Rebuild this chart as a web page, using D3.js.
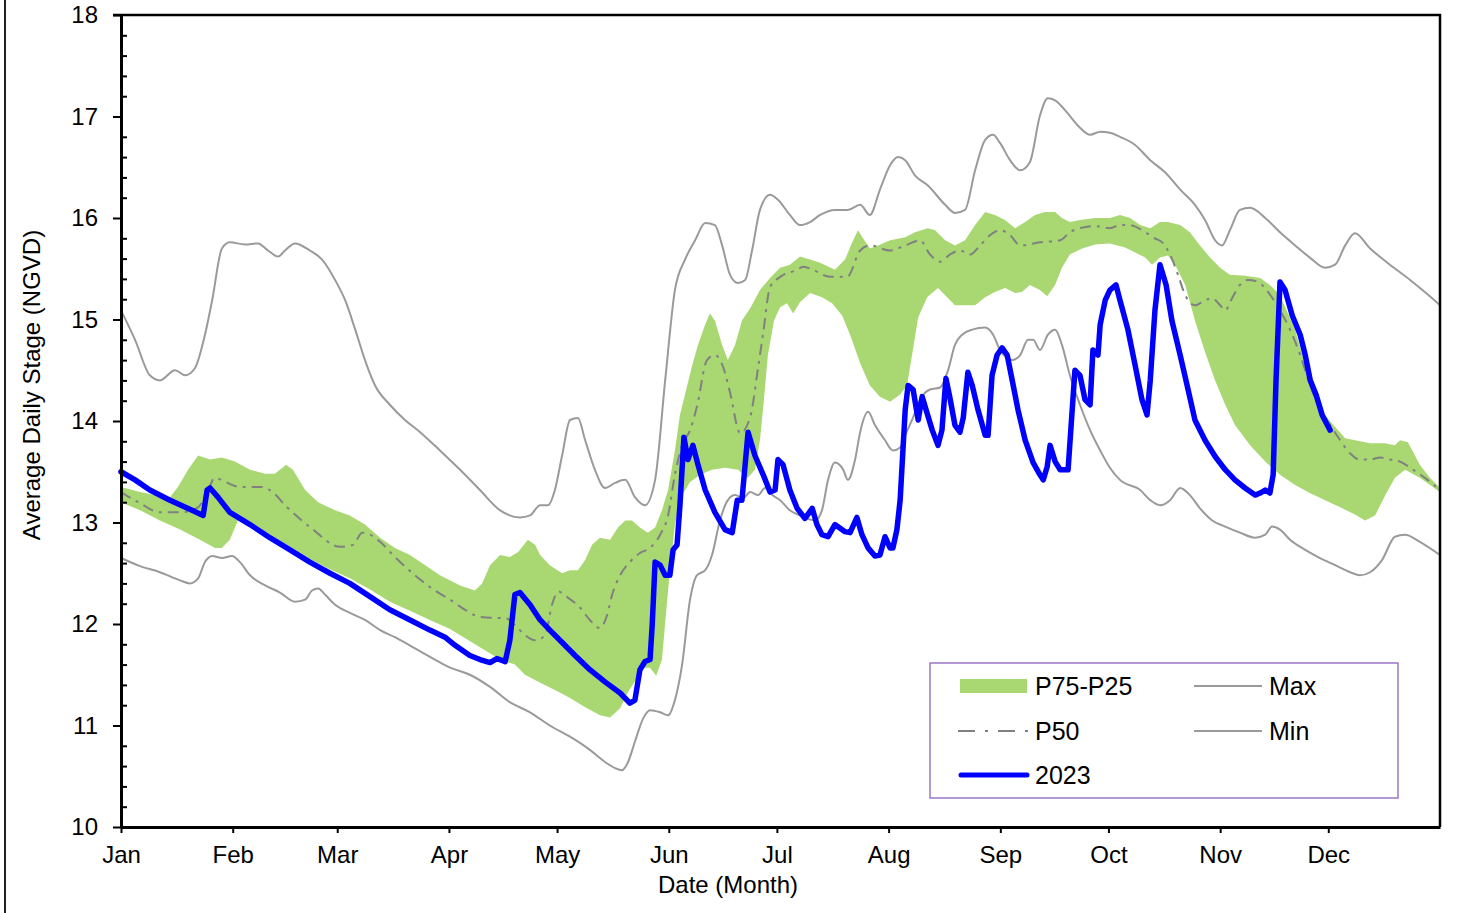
<!DOCTYPE html>
<html>
<head>
<meta charset="utf-8">
<script src="https://cdn.jsdelivr.net/npm/d3@7"></script>
<style>
  body { margin: 0; background: #fff; }
  svg { display: block; font-family: "Liberation Sans", Arial, sans-serif; }
  .axis path, .axis line { stroke: #000; }
  .axis text { font-size: 24px; fill: #000; }
</style>
</head>
<body>
<div id="chart"></div>
<script>
// Month labels and day-of-year where each month starts
const monthLabels = ["Jan", "Feb", "Mar", "Apr", "May", "Jun", "Jul", "Aug", "Sep", "Oct", "Nov", "Dec"];
const monthStarts = [0, 31, 60, 91, 121, 152, 182, 213, 244, 274, 305, 335];
const yTicks = [10, 11, 12, 13, 14, 15, 16, 17, 18];

// Series: [day of year, stage]
const maxSeries = [[0,15.09],[3.9,14.80],[8,14.45],[10.8,14.40],[15,14.50],[17.8,14.45],[20.5,14.52],[23.3,14.85],[25.3,15.19],[28,15.70],[30.2,15.76],[34.4,15.74],[38,15.75],[40.8,15.68],[43.6,15.62],[45.5,15.68],[48.3,15.75],[52.4,15.68],[55.8,15.59],[59.4,15.39],[62.2,15.19],[65,14.90],[67.7,14.60],[70.5,14.35],[74.6,14.16],[78.8,14.01],[83,13.89],[88.5,13.71],[94.1,13.52],[99.6,13.32],[105.2,13.12],[110.7,13.05],[113.5,13.07],[116.3,13.17],[118.5,13.17],[120.4,13.32],[122.4,13.66],[124.6,14.01],[126.8,14.03],[128.8,13.81],[131.5,13.52],[134.3,13.34],[137.1,13.39],[139.9,13.42],[142.6,13.25],[145.4,13.17],[148.2,13.42],[151,14.40],[153.7,15.29],[156.5,15.59],[159.3,15.78],[162.1,15.95],[164.8,15.93],[166.8,15.73],[169,15.44],[171.2,15.36],[173.2,15.39],[175.1,15.68],[177.3,16.08],[180.1,16.23],[182.3,16.18],[185.6,16.03],[188.4,15.93],[191.2,15.96],[194,16.03],[198.1,16.08],[201.7,16.08],[205.1,16.13],[207.8,16.03],[210.6,16.28],[213.4,16.52],[215.6,16.60],[217.6,16.57],[220.3,16.42],[223.9,16.32],[228.7,16.13],[231.4,16.05],[234.2,16.08],[237,16.47],[239.8,16.77],[242,16.82],[243.9,16.74],[246.7,16.57],[249.5,16.47],[252.2,16.55],[255,17.01],[257.2,17.18],[259.2,17.16],[262,17.06],[266.1,16.89],[268.9,16.82],[271.7,16.85],[274.4,16.84],[277.2,16.80],[281.4,16.72],[285.6,16.57],[289.7,16.45],[293.9,16.28],[298,16.13],[300.8,15.98],[303.6,15.78],[305.5,15.73],[307.7,15.88],[310.5,16.08],[313.3,16.10],[317.5,16.00],[321.6,15.86],[325.8,15.73],[329.9,15.61],[334.1,15.51],[336.9,15.54],[339.7,15.73],[342.4,15.85],[346.6,15.70],[352.1,15.54],[357.7,15.39],[361.8,15.27],[366,15.14]];

const minSeries = [[0,12.65],[5.3,12.57],[10.8,12.51],[16.4,12.43],[19.1,12.40],[21.4,12.45],[23.3,12.61],[25.3,12.67],[28,12.65],[30.8,12.67],[33,12.61],[35.8,12.48],[40,12.38],[44.1,12.31],[48.3,12.22],[51.1,12.24],[53,12.33],[54.7,12.35],[56.6,12.29],[59.4,12.19],[63.5,12.11],[67.7,12.04],[71.9,11.94],[76,11.87],[81.6,11.76],[87.1,11.65],[91.3,11.57],[96.8,11.50],[102.4,11.38],[107.9,11.23],[113.5,11.13],[119,11.00],[124.6,10.89],[130.1,10.76],[134.3,10.64],[137.1,10.58],[139,10.56],[140.7,10.64],[142.6,10.84],[144.9,11.07],[146.8,11.15],[149.6,11.13],[151.8,11.10],[153.7,11.25],[155.7,11.60],[157.9,12.24],[159.8,12.48],[162.1,12.53],[164,12.68],[166.2,13.02],[168.4,13.22],[170.4,13.27],[172.6,13.24],[174.6,13.30],[176.8,13.27],[178.7,13.34],[180.7,13.27],[182.9,13.22],[185.6,13.12],[188.4,13.07],[192.6,13.02],[194.5,13.12],[196.2,13.42],[198.1,13.59],[200.4,13.52],[201.7,13.42],[203.7,13.62],[205.1,13.89],[207.3,14.09],[209.2,13.96],[212,13.81],[214.2,13.71],[216.2,13.74],[217.6,13.86],[219.5,14.01],[221.7,14.21],[224.5,14.31],[227.3,14.33],[229.5,14.50],[231.4,14.75],[233.4,14.85],[236.2,14.90],[239.8,14.92],[242,14.85],[243.9,14.70],[247.3,14.60],[249.5,14.65],[251.7,14.80],[253.1,14.80],[255,14.70],[257.2,14.85],[259.2,14.90],[261.1,14.75],[263.3,14.45],[266.1,14.16],[268.9,13.91],[271.7,13.71],[274.4,13.54],[277.2,13.42],[282.8,13.32],[285.6,13.22],[288.3,13.17],[291.1,13.22],[293.9,13.34],[296.6,13.27],[299.4,13.14],[302.8,13.02],[306.4,12.96],[310.5,12.90],[314.7,12.85],[317.5,12.88],[319.4,12.96],[321.6,12.93],[324.4,12.83],[328.6,12.73],[332.7,12.65],[336.9,12.58],[341.1,12.51],[343.8,12.48],[346.6,12.51],[349.9,12.63],[353.5,12.86],[356.3,12.88],[360.4,12.81],[366,12.68]];

const p75Series = [[0,13.35],[5.3,13.30],[10.8,13.26],[13.6,13.25],[15.8,13.35],[18.6,13.52],[21.4,13.66],[24.7,13.62],[28,13.64],[31.6,13.60],[35.8,13.52],[40,13.48],[42.7,13.48],[44.1,13.52],[45.8,13.57],[47.7,13.52],[51.1,13.32],[54.7,13.20],[59.4,13.12],[63.5,13.07],[67.7,12.98],[71.9,12.85],[76,12.75],[80.2,12.68],[84.4,12.58],[88.5,12.48],[94.1,12.38],[98.2,12.33],[100.2,12.40],[102.4,12.58],[105.2,12.68],[107.9,12.66],[110.2,12.71],[112.9,12.83],[114.9,12.78],[116.3,12.68],[119,12.58],[122.4,12.50],[124.6,12.53],[126.8,12.53],[128.8,12.63],[130.7,12.78],[132.9,12.85],[135.7,12.83],[137.9,12.95],[139.9,13.02],[141.8,13.02],[144,12.95],[146.2,12.90],[148.2,12.95],[150.1,13.12],[151.8,13.32],[153.7,13.71],[155.1,14.06],[156.5,14.26],[158.5,14.55],[160.1,14.75],[162.1,14.95],[163.4,15.06],[164.8,14.99],[166.8,14.75],[168.4,14.60],[170.4,14.75],[172.3,14.99],[174.6,15.11],[177.3,15.29],[180.1,15.41],[182.9,15.51],[185.6,15.54],[188.4,15.62],[191.2,15.59],[194,15.56],[198.1,15.49],[200.9,15.59],[202.9,15.76],[204.5,15.88],[205.9,15.80],[207.8,15.70],[210.1,15.73],[213.4,15.78],[217.6,15.81],[220.3,15.86],[223.9,15.90],[225.9,15.88],[228.7,15.78],[231.4,15.73],[234.2,15.78],[237,15.93],[239.8,16.06],[242.5,16.03],[245.3,15.98],[248.1,15.90],[250.9,15.96],[253.6,16.03],[256.4,16.06],[259.2,16.06],[261.1,16.00],[263.3,15.96],[266.1,15.98],[270.3,16.00],[274.4,16.00],[277.2,16.03],[280,16.00],[282.8,15.93],[285.6,15.90],[288.3,15.96],[290.5,15.96],[293.9,15.93],[296.6,15.86],[299.4,15.73],[302.2,15.61],[305,15.51],[307.7,15.44],[311.9,15.43],[316.1,15.41],[318.8,15.34],[321.6,15.24],[325.8,14.90],[328.6,14.55],[331.3,14.26],[334.1,14.06],[336.9,13.94],[339.7,13.83],[342.4,13.81],[346.6,13.78],[350.7,13.78],[353.5,13.76],[354.9,13.81],[357.1,13.79],[360.4,13.57],[363.2,13.44],[366,13.34]];

const p25Series = [[0,13.20],[5.3,13.12],[10.8,13.02],[16.4,12.93],[21.9,12.83],[26.1,12.75],[28,12.75],[30.2,12.83],[33,13.07],[37.2,12.97],[41.3,12.88],[46.9,12.76],[52.4,12.64],[58,12.54],[63.5,12.45],[69.1,12.34],[74.6,12.22],[80.2,12.13],[85.7,12.04],[91.3,11.95],[95.5,11.86],[99.6,11.77],[105.2,11.65],[109.3,11.60],[112.1,11.50],[116.3,11.42],[120.4,11.35],[124.6,11.27],[128.8,11.18],[132.9,11.10],[135.7,11.08],[138.5,11.17],[140.7,11.33],[142.9,11.45],[145.1,11.57],[146.8,11.57],[148.5,11.49],[150.1,11.65],[151.8,12.33],[153.7,12.98],[155.7,13.27],[157.9,13.40],[160.7,13.47],[164,13.52],[167.6,13.54],[171.2,13.52],[173.9,13.44],[175.9,13.52],[177.3,13.81],[178.4,14.21],[179.5,14.65],[181.2,14.99],[182.9,15.12],[184.8,15.16],[186.5,15.06],[188.4,15.17],[191.2,15.26],[194.5,15.22],[197.3,15.16],[200.1,15.04],[202.3,14.85],[205.1,14.57],[207.8,14.35],[210.6,14.24],[213.4,14.19],[216.2,14.26],[218.1,14.35],[219.5,14.65],[221.2,15.02],[223.7,15.22],[226.7,15.31],[229.5,15.21],[231.4,15.14],[234.2,15.14],[237,15.14],[239.8,15.22],[242.5,15.27],[245.3,15.31],[248.1,15.26],[250,15.27],[252.2,15.34],[255,15.29],[257,15.23],[259.2,15.34],[261.1,15.51],[263.3,15.64],[266.7,15.70],[270.3,15.74],[274.4,15.75],[278.6,15.71],[281.4,15.66],[284.2,15.61],[286.1,15.54],[288.3,15.61],[290.5,15.63],[292.5,15.54],[295.3,15.34],[298,14.99],[300.8,14.68],[303.6,14.40],[306.4,14.16],[309.1,13.96],[313.3,13.76],[317.5,13.60],[321.6,13.47],[325.8,13.37],[329.9,13.29],[334.1,13.22],[338.3,13.15],[342.4,13.08],[345.2,13.02],[348,13.07],[350.7,13.26],[353.5,13.44],[356.3,13.52],[360.4,13.44],[366,13.30]];

const p50Series = [[0,13.30],[5.3,13.19],[10.8,13.10],[16.4,13.10],[21.4,13.15],[23.9,13.30],[26.1,13.44],[28.9,13.40],[33,13.35],[39.1,13.35],[41.3,13.32],[46.1,13.15],[53.3,12.93],[60.8,12.76],[64.4,12.78],[66.9,12.90],[69.1,12.88],[71.9,12.81],[76,12.66],[81.6,12.48],[87.1,12.33],[91.3,12.24],[95.5,12.14],[99.6,12.07],[103.8,12.06],[106.6,12.06],[109.3,11.99],[112.1,11.89],[114.9,11.84],[117.7,11.89],[119.6,12.19],[121.3,12.32],[124,12.26],[127.4,12.16],[130.1,12.04],[132.9,11.96],[134.9,12.09],[136.3,12.29],[138.5,12.48],[141.2,12.61],[144,12.70],[146.8,12.75],[149.6,12.88],[151.8,13.07],[153.7,13.47],[155.7,13.76],[157.9,13.91],[159.8,14.14],[162.6,14.60],[164.8,14.65],[167.1,14.53],[169,14.28],[171.8,13.88],[174.6,14.04],[176.8,14.53],[178.2,14.87],[180.1,15.32],[182.9,15.42],[187.6,15.49],[189.3,15.52],[192,15.49],[196.7,15.42],[201.5,15.42],[205.1,15.68],[207.8,15.73],[213.4,15.68],[217.6,15.73],[221.7,15.78],[224.5,15.64],[227.3,15.57],[230,15.64],[232.8,15.68],[235.6,15.64],[238.4,15.73],[241.1,15.83],[243.9,15.88],[246.7,15.83],[249.5,15.73],[255,15.76],[260.6,15.78],[263.3,15.86],[266.1,15.90],[270.3,15.92],[274.4,15.90],[277.2,15.93],[280,15.93],[284.2,15.86],[286.9,15.80],[289.2,15.75],[291.1,15.64],[293.3,15.44],[295.3,15.24],[298,15.14],[300.8,15.19],[302.8,15.21],[305,15.14],[306.4,15.09],[308.3,15.21],[310.5,15.34],[312.7,15.39],[315.5,15.37],[318.3,15.27],[321.6,15.09],[324.4,14.90],[327.2,14.65],[330,14.35],[332.7,14.11],[335.5,13.96],[338.3,13.81],[341.1,13.68],[343.8,13.62],[346.6,13.62],[349.4,13.64],[352.1,13.62],[354.9,13.60],[357.7,13.54],[361.8,13.44],[366,13.32]];

const series2023 = [[0,13.50],[3.9,13.42],[8,13.32],[13.6,13.22],[19.7,13.12],[22.8,13.07],[23.9,13.32],[24.7,13.34],[26.9,13.25],[30.2,13.10],[35.8,12.98],[41.3,12.85],[46.9,12.73],[52.4,12.61],[58,12.50],[63.5,12.40],[69.1,12.27],[74.6,12.14],[80.2,12.04],[85.7,11.94],[89.9,11.87],[92.7,11.79],[96.8,11.69],[99.6,11.65],[102.4,11.62],[104.3,11.66],[106.6,11.63],[107.9,11.84],[109.3,12.29],[110.7,12.31],[113.5,12.19],[116.3,12.04],[119,11.94],[121.8,11.84],[126,11.69],[130.1,11.55],[134.3,11.43],[138.5,11.32],[141.2,11.22],[142.6,11.25],[144,11.55],[145.4,11.63],[146.8,11.65],[147.4,11.99],[148.2,12.61],[149.6,12.58],[151,12.48],[152.3,12.48],[153.2,12.73],[154.3,12.78],[155.1,13.17],[156.2,13.84],[157.3,13.62],[158.7,13.76],[160.1,13.57],[162.1,13.32],[164.8,13.10],[167.6,12.93],[169.6,12.90],[171,13.22],[172.3,13.22],[174,13.89],[175.9,13.66],[178.2,13.47],[180.1,13.30],[181.5,13.32],[182.3,13.62],[183.7,13.57],[185.6,13.32],[187.6,13.14],[189.8,13.04],[191.8,13.14],[193.1,12.98],[194.5,12.88],[196.2,12.86],[198.1,12.98],[200.9,12.91],[202.3,12.90],[204.2,13.05],[205.6,12.88],[207.3,12.75],[209.2,12.67],[210.6,12.68],[212,12.86],[213.4,12.75],[214.2,12.75],[215.3,12.93],[216.2,13.22],[217.6,14.11],[218.4,14.35],[219.8,14.31],[221.2,14.01],[222.3,14.24],[223.4,14.11],[225.1,13.91],[226.7,13.76],[227.8,13.91],[228.9,14.42],[230,14.23],[231.4,13.96],[232.8,13.89],[233.7,14.03],[235,14.48],[236.2,14.35],[237.8,14.11],[239.8,13.86],[240.6,13.86],[241.7,14.45],[243.1,14.65],[244.5,14.72],[245.9,14.65],[247.3,14.40],[248.9,14.11],[250.9,13.81],[253.1,13.59],[255,13.47],[255.9,13.42],[257,13.55],[257.8,13.76],[259.2,13.60],[260.6,13.52],[262.8,13.52],[264.7,14.50],[266.1,14.45],[267.5,14.21],[268.9,14.16],[269.7,14.70],[271.1,14.65],[271.7,14.95],[273.1,15.19],[274.4,15.29],[276.1,15.34],[277.2,15.19],[279.4,14.90],[281.4,14.55],[283.3,14.21],[284.7,14.06],[285.6,14.40],[286.9,15.09],[288.3,15.54],[290,15.34],[291.6,14.99],[293.9,14.65],[296.1,14.31],[298,14.01],[300.8,13.81],[303.6,13.65],[306.4,13.52],[309.1,13.42],[311.9,13.34],[314.7,13.27],[316.1,13.29],[317.5,13.32],[318.8,13.29],[319.7,13.47],[320.5,14.40],[321.6,15.37],[323,15.29],[325,15.04],[327.2,14.85],[328.6,14.65],[330,14.40],[331.6,14.26],[333.3,14.06],[335.5,13.91]];

const legendItems = ["P75-P25", "P50", "2023", "Max", "Min"];

const W = 1465, H = 913;
const margin = {top: 15, right: 25, bottom: 86, left: 121};
const width = W - margin.left - margin.right;
const height = H - margin.top - margin.bottom;

const greenFill = "#a9d872";
const greyLine = "#9a9a9a";

const svg = d3.select("#chart").append("svg")
    .attr("width", W)
    .attr("height", H);

// outer frame on the left edge
svg.append("line")
    .attr("x1", 5).attr("x2", 5)
    .attr("y1", 0).attr("y2", H)
    .attr("stroke", "#222")
    .attr("stroke-width", 2);

const vis = svg.append("g")
    .attr("transform", "translate(" + margin.left + "," + margin.top + ")");

const x = d3.scaleLinear().domain([0, 366]).range([0, width]);
const y = d3.scaleLinear().domain([10, 18]).range([height, 0]);

// P75-P25 band: upper edge forward, lower edge back
const band = p75Series.concat(p25Series.slice().reverse());
vis.append("path")
    .attr("d", d3.line().x(d => x(d[0])).y(d => y(d[1]))(band) + "Z")
    .attr("fill", greenFill)
    .attr("stroke", "none");

const smooth = d3.line()
    .x(d => x(d[0]))
    .y(d => y(d[1]))
    .curve(d3.curveMonotoneX);

vis.append("path")
    .attr("d", smooth(maxSeries))
    .attr("fill", "none")
    .attr("stroke", greyLine)
    .attr("stroke-width", 2);

vis.append("path")
    .attr("d", smooth(minSeries))
    .attr("fill", "none")
    .attr("stroke", greyLine)
    .attr("stroke-width", 2);

vis.append("path")
    .attr("d", smooth(p50Series))
    .attr("fill", "none")
    .attr("stroke", "#808080")
    .attr("stroke-width", 2)
    .attr("stroke-dasharray", "11,6,3,6");

vis.append("path")
    .attr("d", d3.line().x(d => x(d[0])).y(d => y(d[1]))(series2023))
    .attr("fill", "none")
    .attr("stroke", "#0000ff")
    .attr("stroke-width", 5.5)
    .attr("stroke-linejoin", "round")
    .attr("stroke-linecap", "round");

// top and right frame
vis.append("path")
    .attr("d", "M" + (-8) + ",0H" + width + "V" + height)
    .attr("fill", "none")
    .attr("stroke", "#000")
    .attr("stroke-width", 2.5);

// Axes
const x_axis = d3.axisBottom(x)
    .tickValues(monthStarts)
    .tickFormat((d, i) => monthLabels[i])
    .tickSize(6)
    .tickPadding(13)
    .tickSizeOuter(0);

const gx = vis.append("g")
    .attr("class", "axis")
    .attr("transform", "translate(0," + height + ")")
    .call(x_axis);
gx.select(".domain").attr("stroke-width", 3);
gx.selectAll(".tick line").attr("stroke-width", 2);

const y_axis = d3.axisLeft(y)
    .tickValues(yTicks)
    .tickFormat(d3.format("d"))
    .tickSize(8)
    .tickPadding(15)
    .tickSizeOuter(0);

const gy = vis.append("g")
    .attr("class", "axis")
    .call(y_axis);
gy.select(".domain").attr("stroke-width", 3);
gy.selectAll(".tick line").attr("stroke-width", 2);

// minor ticks pointing inside
const minorTicks = d3.range(10, 18.001, 0.2).filter(v => Math.abs(v - Math.round(v)) > 0.01);
vis.append("g")
    .attr("class", "axis")
    .call(d3.axisRight(y).tickValues(minorTicks).tickSize(6).tickFormat("").tickSizeOuter(0))
    .call(g => g.select(".domain").remove())
    .selectAll(".tick line").attr("stroke-width", 2);

// Axis titles
svg.append("text")
    .attr("x", 728)
    .attr("y", 893)
    .attr("text-anchor", "middle")
    .attr("font-size", 24)
    .text("Date (Month)");

svg.append("text")
    .attr("transform", "translate(40,385) rotate(-90)")
    .attr("text-anchor", "middle")
    .attr("font-size", 24)
    .text("Average Daily Stage (NGVD)");

// Legend
const lg = svg.append("g");
lg.append("rect")
    .attr("x", 930).attr("y", 663)
    .attr("width", 468).attr("height", 135)
    .attr("fill", "#fff")
    .attr("stroke", "#9b77c7")
    .attr("stroke-width", 1.5);

lg.append("rect")
    .attr("x", 960).attr("y", 679)
    .attr("width", 67).attr("height", 14)
    .attr("fill", greenFill);

lg.append("line")
    .attr("x1", 958).attr("x2", 1030).attr("y1", 731).attr("y2", 731)
    .attr("stroke", "#808080").attr("stroke-width", 2)
    .attr("stroke-dasharray", "17,10,3,10");

lg.append("line")
    .attr("x1", 961).attr("x2", 1027).attr("y1", 775).attr("y2", 775)
    .attr("stroke", "#0000ff").attr("stroke-width", 5)
    .attr("stroke-linecap", "round");

lg.append("line")
    .attr("x1", 1194).attr("x2", 1262).attr("y1", 686).attr("y2", 686)
    .attr("stroke", greyLine).attr("stroke-width", 2);

lg.append("line")
    .attr("x1", 1194).attr("x2", 1262).attr("y1", 731).attr("y2", 731)
    .attr("stroke", greyLine).attr("stroke-width", 2);

const legendPos = [[1035, 686], [1035, 731], [1035, 775], [1269, 686], [1269, 731]];
lg.selectAll("text.leg")
    .data(legendItems)
    .enter().append("text")
    .attr("class", "leg")
    .attr("x", (d, i) => legendPos[i][0])
    .attr("y", (d, i) => legendPos[i][1])
    .attr("dy", "0.35em")
    .attr("font-size", 25)
    .text(d => d);
</script>
</body>
</html>
